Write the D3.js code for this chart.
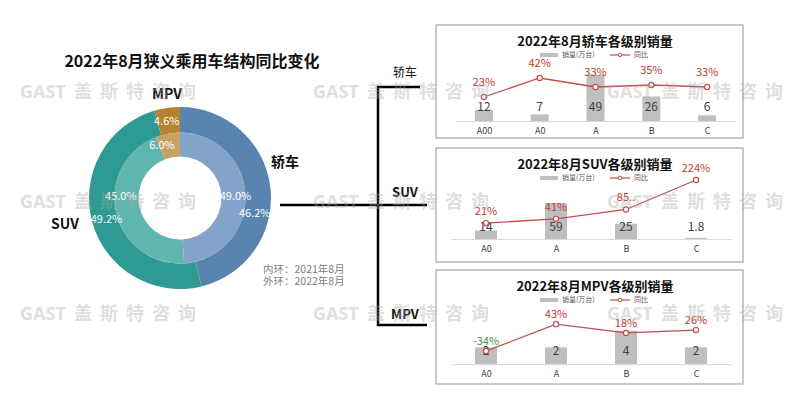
<!DOCTYPE html>
<html>
<head>
<meta charset="utf-8">
<script src="https://cdn.jsdelivr.net/npm/d3@7"></script>
<style>
  body { margin: 0; background: #fff; }
  text { font-family: "Noto Sans CJK SC", "Noto Sans", sans-serif; }
</style>
</head>
<body>
<div id="chart"></div>
<script>
// ---- data ----
var donutCats = ["轿车", "SUV", "MPV"];
var outerShare = [46.2, 49.2, 4.6];   // 外环：2022年8月
var innerShare = [49.0, 45.0, 6.0];   // 内环：2021年8月

var sedanCats = ["A00", "A0", "A", "B", "C"];
var sedanSales = [12, 7, 49, 26, 6];
var sedanYoy = [23, 42, 33, 35, 33];
var sedanYoyLabels = ["23%", "42%", "33%", "35%", "33%"];

var suvCats = ["A0", "A", "B", "C"];
var suvSales = [14, 59, 25, 1.8];
var suvYoy = [21, 41, 85, 224];
var suvYoyLabels = ["21%", "41%", "85..", "224%"];

var mpvCats = ["A0", "A", "B", "C"];
var mpvSales = [2, 2, 4, 2];
var mpvYoy = [-34, 43, 18, 26];
var mpvYoyLabels = ["-34%", "43%", "18%", "26%"];

// ---- svg ----
var svg = d3.select("#chart").append("svg")
  .attr("width", 800)
  .attr("height", 398);

svg.append("rect").attr("width", 800).attr("height", 398).attr("fill", "#fff");

// ---- donut ----
var cx = 180, cy = 198;
var outerColors = ["#5a84b0", "#2e9a93", "#b5822f"];
var innerColors = ["#83a3c8", "#5fb6ae", "#c9a163"];

svg.append("text")
  .attr("x", 192).attr("y", 63)
  .attr("text-anchor", "middle").attr("dominant-baseline", "middle")
  .attr("font-size", 16).attr("font-weight", "bold").attr("fill", "#111")
  .text("2022年8月狭义乘用车结构同比变化");

var pie = d3.pie().sort(null).value(d => d);
var outerArc = d3.arc().innerRadius(65.5).outerRadius(91);
var innerArc = d3.arc().innerRadius(41.5).outerRadius(65.5);

var donut = svg.append("g").attr("transform", `translate(${cx},${cy})`);

donut.selectAll("path.outer")
  .data(pie(outerShare)).enter().append("path")
  .attr("class", "outer")
  .attr("d", outerArc)
  .attr("fill", (d, i) => outerColors[i]);

donut.selectAll("path.inner")
  .data(pie(innerShare)).enter().append("path")
  .attr("class", "inner")
  .attr("d", innerArc)
  .attr("fill", (d, i) => innerColors[i]);

// label nudges where the original moved labels off the centroid
var outerNudge = [[-3, 25], [2, 2], [-2, 1]];
var innerNudge = [[2, 1], [-7, -13], [-8, 1]];

donut.selectAll("text.outerLbl")
  .data(pie(outerShare)).enter().append("text")
  .attr("class", "outerLbl")
  .attr("x", (d, i) => outerArc.centroid(d)[0] + outerNudge[i][0])
  .attr("y", (d, i) => outerArc.centroid(d)[1] + outerNudge[i][1])
  .attr("text-anchor", "middle").attr("dominant-baseline", "middle")
  .attr("font-size", 11).attr("fill", "#fff")
  .text(d => d.data.toFixed(1) + "%");

donut.selectAll("text.innerLbl")
  .data(pie(innerShare)).enter().append("text")
  .attr("class", "innerLbl")
  .attr("x", (d, i) => innerArc.centroid(d)[0] + innerNudge[i][0])
  .attr("y", (d, i) => innerArc.centroid(d)[1] + innerNudge[i][1])
  .attr("text-anchor", "middle").attr("dominant-baseline", "middle")
  .attr("font-size", 11).attr("fill", "#fff")
  .text(d => d.data.toFixed(1) + "%");

// category names around the donut
var catPos = [[285, 163], [65, 225], [167, 95]];
donutCats.forEach(function(c, i) {
  svg.append("text")
    .attr("x", catPos[i][0]).attr("y", catPos[i][1])
    .attr("text-anchor", "middle").attr("dominant-baseline", "middle")
    .attr("font-size", 14).attr("font-weight", "bold").attr("fill", "#111")
    .text(c);
});

svg.append("text")
  .attr("x", 263).attr("y", 270).attr("dominant-baseline", "middle")
  .attr("font-size", 10.5).attr("fill", "#808080")
  .text("内环：2021年8月");
svg.append("text")
  .attr("x", 263).attr("y", 282).attr("dominant-baseline", "middle")
  .attr("font-size", 10.5).attr("fill", "#808080")
  .text("外环：2022年8月");

// ---- bracket ----
var bracket = svg.append("g").attr("stroke", "#000").attr("stroke-width", 2.5).attr("fill", "none");
bracket.append("path").attr("d", "M420,87 H378 V325 H427");
bracket.append("path").attr("d", "M280,205 H427");

svg.append("text").attr("x", 405).attr("y", 74)
  .attr("text-anchor", "middle").attr("dominant-baseline", "middle")
  .attr("font-size", 12).attr("fill", "#111").text("轿车");
svg.append("text").attr("x", 405).attr("y", 193)
  .attr("text-anchor", "middle").attr("dominant-baseline", "middle")
  .attr("font-size", 13).attr("font-weight", "bold").attr("fill", "#111").text("SUV");
svg.append("text").attr("x", 405).attr("y", 315)
  .attr("text-anchor", "middle").attr("dominant-baseline", "middle")
  .attr("font-size", 13).attr("font-weight", "bold").attr("fill", "#111").text("MPV");

// ---- small panels ----
var lineColor = "#c0504d";

function drawPanel(opt) {
  var g = svg.append("g");

  g.append("rect")
    .attr("x", 436).attr("y", opt.boxTop)
    .attr("width", 307).attr("height", opt.boxHeight)
    .attr("fill", "#fff").attr("stroke", "#a6a6a6").attr("stroke-width", 1.2);

  var mid = 590;
  g.append("text")
    .attr("x", mid + 5).attr("y", opt.boxTop + 17)
    .attr("text-anchor", "middle").attr("dominant-baseline", "middle")
    .attr("font-size", 13).attr("font-weight", "bold").attr("fill", "#111")
    .text(opt.title);

  // legend
  var ly = opt.boxTop + 30;
  g.append("rect").attr("x", mid - 50).attr("y", ly - 2).attr("width", 18).attr("height", 4).attr("fill", "#bfbfbf");
  g.append("text").attr("x", mid - 28).attr("y", ly).attr("dominant-baseline", "middle")
    .attr("font-size", 7).attr("fill", "#595959").text("销量(万台)");
  g.append("line").attr("x1", mid + 20).attr("x2", mid + 40).attr("y1", ly).attr("y2", ly)
    .attr("stroke", lineColor).attr("stroke-width", 1.2);
  g.append("circle").attr("cx", mid + 30).attr("cy", ly).attr("r", 1.8)
    .attr("fill", "#fff").attr("stroke", lineColor);
  g.append("text").attr("x", mid + 44).attr("y", ly).attr("dominant-baseline", "middle")
    .attr("font-size", 7).attr("fill", "#595959").text("同比");

  var x = d3.scalePoint().domain(opt.cats).range(opt.xRange).padding(0.5);
  var yBar = d3.scaleLinear().domain([0, opt.barMax]).range([opt.baseline, opt.top]);
  var yLine = d3.scaleLinear().domain(opt.lineDomain).range([opt.baseline, opt.top]);

  // bars
  g.selectAll("rect.bar")
    .data(opt.sales).enter().append("rect")
    .attr("class", "bar")
    .attr("x", (d, i) => x(opt.cats[i]) - opt.barW / 2)
    .attr("y", d => yBar(d))
    .attr("width", opt.barW)
    .attr("height", d => opt.baseline - yBar(d))
    .attr("fill", "#bfbfbf");

  // x axis
  var axis = g.append("g")
    .attr("transform", `translate(0,${opt.baseline})`)
    .call(d3.axisBottom(x).tickSize(0).tickPadding(7));
  axis.select(".domain").attr("stroke", "#d9d9d9");
  axis.selectAll("text")
    .attr("font-size", 9).attr("fill", "#404040")
    .attr("font-family", "'Noto Sans CJK SC', 'Noto Sans', sans-serif");

  // bar value labels
  g.selectAll("text.val")
    .data(opt.sales).enter().append("text")
    .attr("class", "val")
    .attr("x", (d, i) => x(opt.cats[i]))
    .attr("y", opt.baseline - opt.valOffset)
    .attr("text-anchor", "middle").attr("dominant-baseline", "middle")
    .attr("font-size", 12).attr("fill", "#404040")
    .text(d => d);

  // yoy line
  var line = d3.line()
    .x((d, i) => x(opt.cats[i]))
    .y(d => yLine(d));
  g.append("path")
    .datum(opt.yoy)
    .attr("d", line)
    .attr("fill", "none").attr("stroke", lineColor).attr("stroke-width", 1.3);
  g.selectAll("circle.pt")
    .data(opt.yoy).enter().append("circle")
    .attr("class", "pt")
    .attr("cx", (d, i) => x(opt.cats[i]))
    .attr("cy", d => yLine(d))
    .attr("r", 2.6)
    .attr("fill", "#fff").attr("stroke", lineColor).attr("stroke-width", 1.2);

  g.selectAll("text.yoy")
    .data(opt.yoy).enter().append("text")
    .attr("class", "yoy")
    .attr("x", (d, i) => x(opt.cats[i]))
    .attr("y", d => yLine(d) - opt.pctOffset)
    .attr("text-anchor", "middle").attr("dominant-baseline", "middle")
    .attr("font-size", 11)
    .attr("fill", d => d < 0 ? "#3a9a3a" : "#c0392b")
    .text((d, i) => opt.yoyLabels[i]);
}

drawPanel({
  title: "2022年8月轿车各级别销量",
  boxTop: 25, boxHeight: 113,
  cats: sedanCats, sales: sedanSales, yoy: sedanYoy, yoyLabels: sedanYoyLabels,
  xRange: [456, 735], baseline: 121, top: 71,
  barMax: 53, lineDomain: [-1, 49], barW: 18,
  valOffset: 13, pctOffset: 14
});

drawPanel({
  title: "2022年8月SUV各级别销量",
  boxTop: 148, boxHeight: 114,
  cats: suvCats, sales: suvSales, yoy: suvYoy, yoyLabels: suvYoyLabels,
  xRange: [451, 731], baseline: 239, top: 170,
  barMax: 113, lineDomain: [-54, 271], barW: 22,
  valOffset: 11, pctOffset: 11
});

drawPanel({
  title: "2022年8月MPV各级别销量",
  boxTop: 270, boxHeight: 114,
  cats: mpvCats, sales: mpvSales, yoy: mpvYoy, yoyLabels: mpvYoyLabels,
  xRange: [451, 731], baseline: 364, top: 314,
  barMax: 6, lineDomain: [-71, 72], barW: 22,
  valOffset: 12, pctOffset: 9
});

// ---- watermark ----
var wmRows = [93, 203, 315];
var wmCols = [20, 313, 607];
var wm = svg.append("g").attr("fill", "#a8a8a8").attr("opacity", 0.36).attr("pointer-events", "none");
wmRows.forEach(function(yy) {
  wmCols.forEach(function(xx) {
    var t = wm.append("text")
      .attr("x", xx).attr("y", yy)
      .attr("dominant-baseline", "middle")
      .attr("font-size", 18).attr("font-weight", "bold");
    t.append("tspan").attr("font-family", "'Open Sans', 'Noto Sans', sans-serif").text("GAST");
    t.append("tspan").attr("x", xx + 54).attr("letter-spacing", 8).text("盖斯特咨询");
  });
});
</script>
</body>
</html>
